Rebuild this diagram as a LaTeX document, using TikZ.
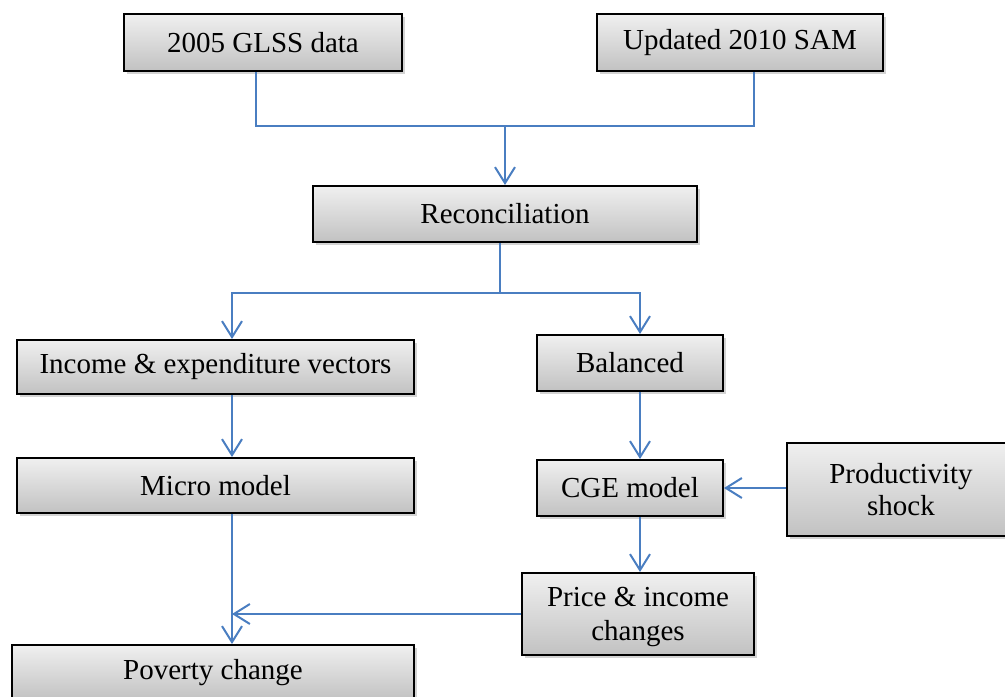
\documentclass[tikz,border=0pt]{standalone}
\usepackage{fontspec}
\setmainfont{Liberation Serif}
\usetikzlibrary{arrows.meta}
\usetikzlibrary{shadows}

\definecolor{flowblue}{RGB}{74,126,193}

\tikzset{
    flowbox/.style={draw=black, line width=1pt, top color=gray!12, bottom color=gray!48,
        drop shadow={shadow xshift=1.5pt, shadow yshift=-1.5pt, opacity=0.35},
        align=center, inner sep=2pt, font=\fontsize{14.5}{16}\selectfont},
    flowline/.style={flowblue, line width=1pt},
    flowarrow/.style={flowline, -{Straight Barb[length=8pt,width=10pt]}}
}

\begin{document}
\begin{tikzpicture}[x=0.5pt, y=-0.5pt]
    \useasboundingbox (0,0) rectangle (1005,696);
    \clip (0,0) rectangle (1005,696);

    % columns of the vertical lines
    \coordinate (lx) at (232,0);
    \coordinate (rx) at (640,0);

    \node[flowbox, minimum width=139pt, minimum height=28.5pt] (glss) at (263,42.5) {2005 GLSS data};
    \node[flowbox, minimum width=143pt, minimum height=28.5pt] (sam) at (740,42.5) {Updated 2010 SAM};
    \node[flowbox, minimum width=192pt, minimum height=28pt] (recon) at (505,214) {Reconciliation};

    \node[flowbox, minimum width=198.5pt, minimum height=27pt] (income) at (215.5,367) {Income \& expenditure vectors};
    \node[flowbox, minimum width=93pt, minimum height=28pt] (balanced) at (630,363) {Balanced};
    \node[flowbox, minimum width=198.5pt, minimum height=27.5pt] (micro) at (215.5,485.5) {Micro model};
    \node[flowbox, minimum width=93pt, minimum height=28pt] (cge) at (630,488) {CGE model};
    \node[flowbox, minimum width=114pt, minimum height=46.5pt] (prod) at (901,489.5) {Productivity\\shock};
    \node[flowbox, minimum width=116pt, minimum height=41pt, text depth=-1.5pt] (price) at (638,614) {Price \& income\\[1pt]changes};
    \node[flowbox, minimum width=201pt, minimum height=27.5pt] (poverty) at (213,672.5) {Poverty change};

    % data sources into reconciliation
    \coordinate (join) at (505,126);
    \draw[flowline] ([xshift=-3.5pt]glss.south) |- (join);
    \draw[flowline] ([xshift=7pt]sam.south) |- (join);
    \draw[flowarrow] (join) -- (recon.north);

    % split
    \coordinate (split) at (500,293);
    \draw[flowline] ([xshift=-2.5pt]recon.south) -- (split);
    \draw[flowarrow] (split) -| (income.north -| lx);
    \draw[flowarrow] (split) -| (balanced.north -| rx);

    \draw[flowarrow] (income.south -| lx) -- (micro.north -| lx);
    \draw[flowarrow] (balanced.south -| rx) -- (cge.north -| rx);
    \draw[flowarrow] (prod.west |- cge.east) -- (cge.east);
    \draw[flowarrow] (cge.south -| rx) -- (price.north -| rx);
    \draw[flowarrow] (micro.south -| lx) -- (poverty.north -| lx);
    \draw[flowarrow] (price.west) -- (price.west -| lx);
\end{tikzpicture}
\end{document}
